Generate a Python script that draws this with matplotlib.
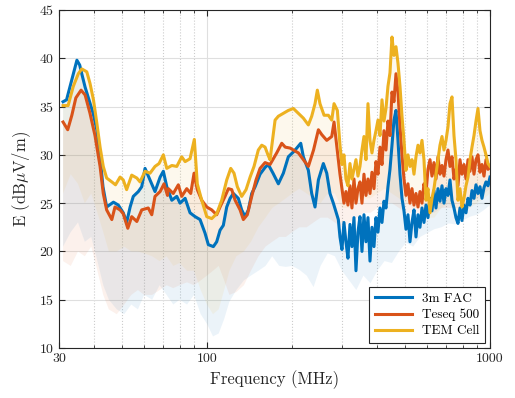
import numpy as np
import matplotlib
matplotlib.use("Agg")
import matplotlib.pyplot as plt
from matplotlib.ticker import FixedLocator, NullFormatter

plt.rcParams['font.family'] = 'serif'
plt.rcParams['font.serif'] = ['cmr10']
plt.rcParams['mathtext.fontset'] = 'cm'
plt.rcParams['axes.unicode_minus'] = False
plt.rcParams['axes.formatter.use_mathtext'] = True

# ---- below ~295 MHz, each trace on its own frequency points (MHz, dBuV/m)
fac_f_lo = [31.0, 31.9, 33.3, 34.7, 35.5, 36.1, 37.1, 38.0, 39.6, 40.8, 41.9, 42.9, 44.2, 46.7,
            48.6, 50.6, 52.0, 53.5, 54.9, 57.2, 58.8, 60.4, 62.9, 65.5, 68.3, 70.1, 72.1, 75.1,
            78.2, 80.3, 83.7, 87.1, 90.8, 94.5, 98.4, 101.1, 105.3, 108.2, 111.2, 114.2, 117.4,
            120.7, 123.9, 129.0, 132.6, 136.3, 140.0, 143.9, 147.9, 154.0, 160.4, 164.6, 171.1,
            178.7, 186.1, 193.8, 201.9, 207.5, 214.4, 219.0, 228.1, 234.4, 240.8, 247.5, 257.7,
            264.9, 272.0, 279.5, 291.1]
fac_v_lo = [35.5, 35.7, 37.8, 39.8, 39.3, 38.4, 37.0, 36.0, 34.3, 32.6, 29.8, 26.7, 24.6, 25.1,
            24.8, 24.0, 23.0, 24.6, 25.7, 26.2, 26.7, 28.6, 27.4, 26.2, 27.7, 28.3, 26.7, 25.3,
            25.7, 25.0, 25.5, 24.0, 23.6, 23.3, 21.9, 20.7, 20.5, 21.0, 22.2, 22.7, 24.6,
            25.5, 26.0, 25.5, 24.3, 23.6, 24.3, 26.0, 26.7, 28.0, 28.7, 29.0, 28.1,
            27.0, 28.1, 29.8, 30.3, 30.7, 31.2, 29.8, 28.4, 26.0, 24.6, 27.4, 29.1,
            28.1, 26.0, 25.0, 23.3]

tes_f_lo = [31.0, 32.2, 33.3, 34.4, 35.9, 37.1, 38.6, 40.2, 41.9, 43.0, 44.2, 46.1, 47.3, 49.3,
            50.6, 52.5, 54.2, 56.5, 58.8, 62.0, 63.8, 65.5, 68.3, 70.5, 72.5, 73.0, 76.0, 79.2,
            81.4, 84.8, 87.6, 90.0, 92.4, 95.8, 99.8, 103.9, 108.2, 111.2, 115.8, 119.0, 122.3,
            125.7, 130.9, 134.4, 138.8, 143.9, 149.0, 154.0, 160.4, 167.0, 176.3, 183.7, 189.0,
            196.7, 201.9, 210.3, 219.0, 228.1, 237.9, 247.5, 254.3, 264.9, 275.9, 281.1, 291.1]
tes_v_lo = [33.4, 32.6, 34.1, 35.9, 36.7, 36.2, 34.3, 32.0, 28.8, 26.0, 24.3, 23.3, 24.6, 24.3,
            23.9, 22.4, 23.6, 23.1, 24.3, 24.5, 23.8, 25.7, 26.2, 27.0, 25.8, 26.5, 26.0, 26.9,
            25.7, 26.5, 26.0, 28.1, 26.4, 25.3, 24.6, 24.3, 23.8, 24.6, 25.7, 26.5, 26.4,
            25.3, 24.3, 23.3, 23.8, 25.7, 27.4, 28.6, 29.2, 29.0, 30.2, 31.2, 30.8,
            30.7, 30.5, 30.2, 29.5, 28.8, 30.5, 32.6, 32.1, 31.5, 31.9, 33.4, 29.5]

tem_f_lo = [31.0, 32.3, 33.7, 35.1, 36.1, 37.6, 38.6, 39.7, 40.8, 41.9, 43.0, 44.2, 46.1, 47.5,
            49.3, 50.6, 52.0, 54.2, 56.5, 58.0, 60.4, 62.9, 65.5, 67.7, 70.1, 72.1, 75.1, 78.2,
            81.4, 83.7, 87.1, 90.2, 92.4, 95.8, 99.8, 103.9, 108.2, 112.7, 117.4, 121.3, 124.6,
            128.0, 132.6, 137.4, 142.0, 146.6, 151.8, 156.1, 160.4, 164.2, 167.0, 174.0, 178.7,
            186.1, 193.8, 201.9, 210.3, 219.0, 228.1, 234.4, 240.8, 245.4, 250.7, 259.2, 268.4,
            275.9, 281.1, 288.8]
tem_v_lo = [35.1, 35.1, 37.1, 38.4, 38.9, 38.6, 37.4, 35.7, 33.3, 30.8, 28.8, 27.6, 27.2, 26.9,
            27.7, 27.4, 26.4, 27.9, 27.6, 27.2, 28.3, 28.1, 28.8, 29.1, 30.0, 28.6, 28.9, 28.8,
            29.8, 29.3, 29.6, 31.6, 27.0, 25.3, 23.6, 23.4, 23.9, 25.3, 27.4, 28.6, 28.1,
            26.7, 25.7, 26.4, 27.7, 28.8, 30.5, 31.0, 30.8, 30.0, 29.5, 33.6, 34.0,
            34.3, 34.6, 34.8, 34.3, 33.8, 33.1, 34.0, 35.3, 36.7, 35.3, 34.1, 34.1,
            33.6, 35.3, 34.6]

# ---- 295 MHz to 1 GHz, shared frequency points (noisy part)
hf_f = [295.0, 299.8, 304.7, 309.7, 314.8, 320.0, 325.2, 330.6, 336.0, 341.5, 347.1, 352.8,
        358.6, 364.5, 370.5, 376.6, 382.7, 389.0, 395.4, 401.9, 408.5, 415.2, 422.0, 428.9,
        435.9, 443.1, 450.4, 457.7, 465.3, 472.9, 480.7, 488.6, 496.6, 504.7, 513.0, 521.4,
        530.0, 538.7, 547.5, 556.5, 565.6, 574.9, 584.3, 593.9, 603.6, 613.6, 623.6, 633.8,
        644.2, 654.8, 665.6, 676.5, 687.6, 698.9, 710.3, 722.0, 733.8, 745.9, 758.1, 770.5,
        783.2, 796.0, 809.1, 822.4, 835.9, 849.6, 863.5, 877.7, 892.1, 906.7, 921.6, 936.7,
        952.1, 967.7, 983.6, 1000.0]
fac_hf = [21.5, 20.2, 23.0, 21.0, 19.3, 22.8, 20.5, 23.5, 18.0, 22.0, 23.6, 20.0,
          23.8, 21.0, 23.5, 19.0, 22.5, 20.5, 23.5, 22.0, 24.5, 23.0, 25.2, 24.5,
          26.7, 28.5, 31.0, 33.6, 34.6, 31.5, 28.0, 25.5, 24.2, 22.3, 23.8, 21.0,
          23.0, 24.3, 21.5, 23.8, 22.5, 24.5, 23.0, 24.8, 23.5, 25.5, 24.2, 26.3,
          24.5, 26.5, 25.2, 26.8, 25.0, 26.5, 25.8, 27.4, 25.3, 24.5, 23.5, 22.9,
          24.5, 23.2, 24.8, 24.0, 25.5, 24.8, 26.3, 25.5, 26.9, 26.0, 26.7, 25.5,
          26.6, 27.2, 26.8, 27.7]
tes_hf = [28.0, 26.5, 25.0, 26.2, 24.8, 26.8, 24.5, 27.5, 25.0, 26.5, 27.2, 25.0,
          28.0, 25.8, 27.5, 26.0, 28.2, 26.5, 29.3, 28.0, 30.8, 29.0, 32.5, 30.5,
          33.5, 32.0, 36.5, 35.5, 38.4, 36.5, 33.0, 30.0, 27.5, 25.8, 27.0, 25.0,
          26.5, 24.8, 26.0, 24.6, 26.2, 25.0, 27.0, 26.0, 28.5, 29.5, 27.8, 29.2,
          27.5, 29.8, 28.0, 28.9, 27.8, 29.5, 30.5, 28.8, 29.8, 27.5, 28.5, 26.8,
          29.5, 28.0, 29.0, 27.5, 29.5, 28.3, 29.8, 28.0, 29.5, 30.0, 28.2, 29.0,
          27.8, 29.5, 28.5, 28.7]
tem_hf = [31.0, 29.0, 30.0, 27.5, 26.8, 29.1, 27.5, 28.5, 29.5, 27.8, 28.8, 30.5,
          31.9, 29.5, 35.3, 31.5, 30.2, 31.5, 32.5, 33.6, 32.0, 35.7, 33.5, 34.8,
          37.1, 38.5, 42.2, 40.3, 41.2, 39.5, 37.1, 34.0, 31.5, 28.4, 30.0, 28.8,
          29.5, 28.0, 29.8, 31.0, 30.2, 31.5, 29.5, 25.3, 26.5, 24.0, 25.5, 26.5,
          28.0, 29.5, 31.0, 31.9, 30.5, 31.5, 32.9, 35.3, 36.0, 32.0, 29.5, 25.3,
          26.5, 24.6, 25.5, 26.8, 27.7, 29.5, 30.8, 32.0, 33.5, 34.8, 32.5, 31.5,
          30.8, 30.0, 29.1, 28.8]

# ---- lower edge of the shaded bands
band_f = [31, 33, 35, 37, 39, 41, 43, 45, 48, 51, 54, 57, 60, 64, 68, 72, 76, 80, 85, 90, 95,
          100, 105, 110, 115, 120, 127, 135, 143, 152, 161, 170, 180, 190, 200, 212, 225, 238,
          252, 267, 283, 300, 318, 337, 357, 378, 400, 424, 450, 477, 505, 535, 567, 600, 636,
          674, 714, 757, 802, 850, 900, 954, 1000]
fac_low = [20.5, 22, 23, 21, 21.5, 19, 16.5, 15, 14, 13.5, 14.5, 14, 15.5, 15, 16.5, 15.5, 14.5,
           15, 14.5, 15.5, 13.5, 12.5, 11.2, 11.5, 13, 14.8, 16, 17, 17.5, 18, 18.5, 19.5, 18.5,
           18.4, 18.5, 18.1, 17.5, 16.3, 18.5, 19.8, 19.5, 18, 17, 16, 17.5, 16.7, 18, 19, 18.8,
           20, 20.9, 20.5, 21.5, 21.9, 22.3, 22.5, 22.9, 22.8, 23.2, 23.6, 23.8, 24.3, 24.8]
tes_low = [19, 18.5, 20, 19.5, 20.5, 18, 15.5, 14, 13.5, 14.5, 15.5, 16, 15.5, 15.5, 16, 16.5,
           16.2, 16.5, 16.8, 16.5, 17, 17.5, 18, 18.5, 17, 15.5, 15.8, 16.5, 18, 19.5, 20.5, 21,
           21.5, 21.5, 22, 22.5, 22.5, 23, 23.5, 23.5, 23, 22.5, 23, 23.5, 24, 24, 24.5, 25, 25,
           24.5, 24, 24, 24, 24, 24, 24.5, 24.5, 24.5, 24.5, 25, 25.5, 26, 26.5]
tem_low = [26, 28, 27, 25, 26, 24, 22, 20, 20, 20.5, 20, 20, 19.8, 19.5, 19, 19.5, 18.5, 18.8,
           18, 18, 16, 14.5, 13.5, 14, 16, 18, 19.5, 20, 21, 22.5, 23.5, 24.5, 25, 25.5, 26,
           26.5, 26, 25.5, 25, 26, 26, 24.5, 24.5, 25, 25.5, 25.5, 26, 26.5, 26, 25.5, 25, 24.5,
           24.5, 23.5, 23.5, 24.5, 25, 24, 24, 24.5, 25, 25.5, 26]

names = ['3m FAC', 'Teseq 500', 'TEM Cell']
colors = ['#0072BD', '#D95319', '#EDB120']

series = [(fac_f_lo + hf_f, fac_v_lo + fac_hf, fac_low),
          (tes_f_lo + hf_f, tes_v_lo + tes_hf, tes_low),
          (tem_f_lo + hf_f, tem_v_lo + tem_hf, tem_low)]

fig, ax = plt.subplots(figsize=(5.15, 3.98), dpi=100)
fig.subplots_adjust(left=0.1146, right=0.9515, bottom=0.1256, top=0.9749)

for (f, v, low), c in zip(series, colors):
    px = np.concatenate([f, band_f[::-1]])
    py = np.concatenate([v, low[::-1]])
    ax.fill(px, py, color=c, alpha=0.08, lw=0, zorder=1)

for (f, v, low), c, n in zip(series, colors, names):
    ax.plot(f, v, color=c, lw=2.2, label=n, zorder=3)

ax.set_xscale('log')
ax.set_xlim(30, 1000)
ax.set_ylim(10, 45)
ax.xaxis.set_major_locator(FixedLocator([30, 100, 1000]))
ax.set_xticklabels(['30', '100', '1000'])
minor = [40, 50, 60, 70, 80, 90, 200, 300, 400, 500, 600, 700, 800, 900]
ax.xaxis.set_minor_locator(FixedLocator(minor))
ax.xaxis.set_minor_formatter(NullFormatter())
ax.set_yticks(np.arange(10, 46, 5))

ax.grid(which='major', color='#dfdfdf', lw=0.8, ls='-', zorder=0)
ax.grid(which='minor', axis='x', color='#cccccc', lw=0.8, ls=':', zorder=0)
ax.set_axisbelow(True)

ax.tick_params(which='both', direction='in', top=True, right=True, colors='#262626',
               labelsize=10, labelcolor='#262626')
ax.tick_params(which='major', length=4.5)
ax.tick_params(which='minor', length=2.5)
for s in ax.spines.values():
    s.set_color('#262626')
    s.set_linewidth(0.8)

ax.set_xlabel('Frequency (MHz)', fontsize=12, color='#262626')
ax.set_ylabel(r'E (dB$\mu$V/m)', fontsize=12, color='#262626')

leg = ax.legend(loc='lower right', fontsize=9.5, handlelength=2.8, fancybox=False,
                edgecolor='#262626', framealpha=1, borderaxespad=0.4, labelspacing=0.3)
leg.get_frame().set_linewidth(0.8)

fig.savefig('out.png', dpi=100)
